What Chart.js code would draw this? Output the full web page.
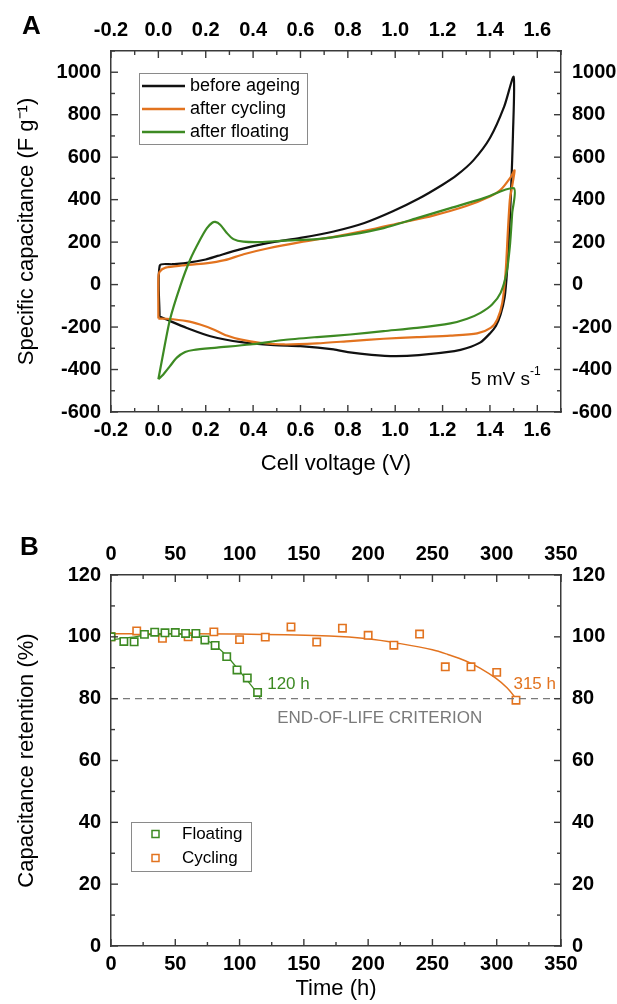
<!DOCTYPE html>
<html>
<head>
<meta charset="utf-8">
<script src="https://cdn.jsdelivr.net/npm/chart.js@4.4.1/dist/chart.umd.min.js"></script>
<style>
  html, body { margin: 0; padding: 0; background: #fff; }
  #wrap { position: relative; width: 617px; height: 1004px; overflow: hidden; }
  .panel { position: absolute; left: 0; width: 617px; }
  .tag { position: absolute; font: bold 26px 'Liberation Sans', Arial, sans-serif; color: #000; }
</style>
</head>
<body>
<div id="wrap">
  <div class="panel" style="top:0;height:480px"><canvas id="cvChart" width="617" height="480"></canvas></div>
  <div class="panel" style="top:480px;height:524px"><canvas id="retChart" width="617" height="524"></canvas></div>
  <div class="tag" style="left:22px;top:10px">A</div>
  <div class="tag" style="left:20px;top:531px">B</div>
</div>
<script>
// ---- panel A: cyclic voltammograms (closed loops, voltage in V, capacitance in F/g)
const beforeV = [0.005, 0.006, 0.06, 0.12, 0.2, 0.25, 0.345, 0.46, 0.6, 0.74, 0.87, 0.99, 1.1, 1.2, 1.26, 1.33, 1.4, 1.46, 1.5,
  1.497, 1.49, 1.482, 1.472, 1.462, 1.445, 1.425, 1.4, 1.36, 1.3, 1.25, 1.1, 1.0, 0.9, 0.8, 0.74, 0.6, 0.49, 0.35, 0.22, 0.12, 0.05, 0.005];
const beforeC = [-150, 90, 96, 102, 118, 135, 166, 195, 220, 250, 290, 345, 405, 470, 515, 585, 690, 838, 978,
  700, 470, 260, 60, -60, -140, -195, -230, -272, -300, -313, -332, -337, -331, -318, -305, -290, -285, -271, -243, -204, -172, -150];

const cyclingV = [0.0, 0.0, 0.005, 0.03, 0.1, 0.2, 0.28, 0.36, 0.46, 0.6, 0.74, 0.88, 1.02, 1.16, 1.3, 1.4, 1.445, 1.487, 1.504,
  1.49, 1.484, 1.476, 1.466, 1.452, 1.431, 1.403, 1.346, 1.233, 1.092, 0.951, 0.81, 0.67, 0.53, 0.43, 0.345, 0.289, 0.233, 0.176, 0.12, 0.035, 0.0];
const cyclingC = [-160, 30, 60, 80, 90, 100, 115, 143, 170, 200, 225, 255, 290, 325, 370, 415, 446, 505, 538,
  440, 400, 258, 55, -86, -164, -204, -230, -240, -247, -255, -266, -277, -282, -274, -258, -240, -211, -188, -172, -161, -160];

const floatingV = [0.0, 0.021, 0.049, 0.092, 0.134, 0.176, 0.205, 0.226, 0.24, 0.261, 0.289, 0.317, 0.359, 0.43, 0.529, 0.67, 0.81, 0.951, 1.092, 1.233, 1.374, 1.501,
  1.494, 1.484, 1.47, 1.445, 1.409, 1.36, 1.304, 1.233, 1.092, 0.951, 0.81, 0.67, 0.529, 0.388, 0.247, 0.148, 0.113, 0.078, 0.049, 0.021, 0.0];
const floatingC = [-446, -321, -164, -8, 117, 211, 266, 290, 295, 282, 243, 214, 202, 200, 207, 214, 235, 266, 313, 360, 407, 454,
  337, 180, 55, -39, -94, -133, -161, -183, -204, -219, -235, -247, -261, -282, -297, -308, -318, -344, -384, -423, -446];

const voltTicks = [-0.2, 0.0, 0.2, 0.4, 0.6, 0.8, 1.0, 1.2, 1.4, 1.6];
const capTicks = [-600, -400, -200, 0, 200, 400, 600, 800, 1000];

// ---- panel B: capacitance retention vs time
const cyclingTime = [0, 20, 40, 60, 80, 100, 120, 140, 160, 180, 200, 220, 240, 260, 280, 300, 315];
const cyclingRet = [100, 101.9, 99.5, 100, 101.6, 99.1, 99.9, 103.2, 98.3, 102.8, 100.5, 97.3, 100.9, 90.3, 90.3, 88.5, 79.5];
const cyclingFitTime = [0, 50, 100, 170, 200, 225, 250, 262, 276, 287, 299, 308, 316];
const cyclingFitRet = [101, 101, 100.9, 100.3, 99.4, 97.8, 95.8, 94.3, 92.2, 89.9, 86.7, 83.5, 79.5];

const floatingTime = [0, 10, 18, 26, 34, 42, 50, 58, 66, 73, 81, 90, 98, 106, 114];
const floatingRet = [100, 98.5, 98.4, 100.8, 101.5, 101.3, 101.4, 101.1, 101.1, 99.0, 97.2, 93.6, 89.3, 86.7, 82.0];
const floatingFitTime = [0, 15, 30, 45, 60, 70, 80, 90, 100, 110, 116];
const floatingFitRet = [99, 99.8, 100.7, 101, 100.7, 99.7, 97.5, 93.8, 88.9, 83.8, 80.2];

const endOfLife = 80;
const timeTicks = [0, 50, 100, 150, 200, 250, 300, 350];
const retTicks = [0, 20, 40, 60, 80, 100, 120];

const BLACK = '#111111', ORANGE = '#e2731f', GREEN = '#3d8a23', AXIS = '#3a3a3a';
const sans = "'Liberation Sans', Arial, sans-serif";

Chart.defaults.color = '#000';
Chart.defaults.font.family = sans;

const pts = (xs, ys) => xs.map((x, i) => ({ x: x, y: ys[i] }));

// builds one axis; size is the fixed box width/height so both panels line up
function axis(pos, min, max, tickVals, fmt, size, pad, title) {
  const a = {
    type: 'linear', position: pos, min: min, max: max,
    afterBuildTicks: s => { s.ticks = tickVals.map(v => ({ value: v })); },
    afterFit: s => {
      if (pos === 'left' || pos === 'right') s.width = size; else s.height = size;
    },
    grid: { display: false, drawOnChartArea: false, drawTicks: false },
    border: { display: true, color: AXIS, width: 1.5 },
    ticks: {
      autoSkip: false, maxRotation: 0, padding: pad, color: '#000',
      font: { family: sans, size: 20, weight: 'bold' },
      callback: v => fmt(v)
    }
  };
  if (title) a.title = title;
  return a;
}

// inward pointing major + minor tick marks on all four sides
const inwardTicks = {
  id: 'inwardTicks',
  afterDatasetsDraw(chart, args, opts) {
    const { ctx, chartArea: a } = chart;
    ctx.save();
    ctx.strokeStyle = AXIS;
    ctx.lineWidth = 1.4;
    for (const id of Object.keys(opts.steps)) {
      const s = chart.scales[id];
      const step = opts.steps[id];
      const k0 = Math.ceil(s.min / step - 1e-9);
      for (let k = k0; k * step <= s.max + 1e-9; k++) {
        const len = (k % 2 === 0) ? 7 : 4;
        const p = s.getPixelForValue(k * step);
        ctx.beginPath();
        if (s.position === 'left') { ctx.moveTo(a.left, p); ctx.lineTo(a.left + len, p); }
        else if (s.position === 'right') { ctx.moveTo(a.right, p); ctx.lineTo(a.right - len, p); }
        else if (s.position === 'top') { ctx.moveTo(p, a.top); ctx.lineTo(p, a.top + len); }
        else { ctx.moveTo(p, a.bottom); ctx.lineTo(p, a.bottom - len); }
        ctx.stroke();
      }
    }
    ctx.restore();
  }
};

// free text placed at data coordinates
const notes = {
  id: 'notes',
  afterDatasetsDraw(chart, args, opts) {
    const ctx = chart.ctx;
    ctx.save();
    for (const n of opts.items) {
      let x = chart.scales.x.getPixelForValue(n.x);
      const y = chart.scales.y.getPixelForValue(n.y);
      ctx.fillStyle = n.color;
      ctx.textBaseline = 'middle';
      ctx.font = n.size + 'px ' + sans;
      const w = ctx.measureText(n.text).width;
      ctx.font = Math.round(n.size * 0.62) + 'px ' + sans;
      const ws = n.sup ? ctx.measureText(n.sup).width : 0;
      if (n.align === 'right') x -= w + ws;
      else if (n.align === 'center') x -= (w + ws) / 2;
      ctx.textAlign = 'left';
      ctx.font = n.size + 'px ' + sans;
      ctx.fillText(n.text, x, y);
      if (n.sup) {
        ctx.font = Math.round(n.size * 0.62) + 'px ' + sans;
        ctx.fillText(n.sup, x + w, y - n.size * 0.38);
      }
    }
    ctx.restore();
  }
};

// legend boxes drawn at fixed offsets from the plot corner
const boxLegend = {
  id: 'boxLegend',
  afterDraw(chart, args, opts) {
    const { ctx, chartArea: a } = chart;
    ctx.save();
    ctx.strokeStyle = '#8a8a8a';
    ctx.lineWidth = 1;
    ctx.strokeRect(a.left + opts.dx + 0.5, a.top + opts.dy + 0.5, opts.w, opts.h);
    ctx.font = opts.size + 'px ' + sans;
    ctx.textBaseline = 'middle';
    opts.rows.forEach((r, i) => {
      const y = a.top + opts.dy + opts.first + i * opts.gap;
      ctx.strokeStyle = r.color;
      if (opts.kind === 'line') {
        ctx.lineWidth = 2.5;
        ctx.beginPath();
        ctx.moveTo(a.left + opts.dx + 3, y);
        ctx.lineTo(a.left + opts.dx + 46, y);
        ctx.stroke();
      } else {
        ctx.lineWidth = 1.5;
        ctx.strokeRect(a.left + opts.dx + 21, y - 3.5, 7, 7);
      }
      ctx.fillStyle = '#000';
      ctx.fillText(r.label, a.left + opts.dx + opts.textX, y);
    });
    ctx.restore();
  }
};

const fmt1 = v => Number(v).toFixed(1);
const fmt0 = v => String(v);
const titleFont = { family: sans, size: 22 };

const cvLine = (label, xs, ys, color) => ({
  label: label, data: pts(xs, ys), showLine: true, borderColor: color,
  borderWidth: 2.2, pointRadius: 0, tension: 0.25, fill: false
});

new Chart(document.getElementById('cvChart'), {
  type: 'scatter',
  data: {
    datasets: [
      cvLine('after floating', floatingV, floatingC, GREEN),
      cvLine('after cycling', cyclingV, cyclingC, ORANGE),
      cvLine('before ageing', beforeV, beforeC, BLACK)
    ]
  },
  options: {
    responsive: false, animation: false,
    layout: { padding: 0 },
    scales: {
      x: axis('bottom', -0.2, 1.7, voltTicks, fmt1, 68, 6,
        { display: true, text: 'Cell voltage (V)', font: titleFont, color: '#000', padding: { top: 0, bottom: 3 } }),
      x2: axis('top', -0.2, 1.7, voltTicks, fmt1, 51, 9),
      y: axis('left', -600, 1100, capTicks, fmt0, 111, 10,
        { display: true, text: 'Specific capacitance (F g\u207B\u00B9)', font: titleFont, color: '#000', padding: { top: 14, bottom: 0 } }),
      y2: axis('right', -600, 1100, capTicks, fmt0, 56, 11)
    },
    plugins: {
      legend: { display: false },
      tooltip: { enabled: false },
      inwardTicks: { steps: { x: 0.1, x2: 0.1, y: 100, y2: 100 } },
      notes: { items: [
        { text: '5 mV s', sup: '-1', x: 1.614, y: -446, color: '#000', size: 19, align: 'right' }
      ] },
      boxLegend: {
        kind: 'line', dx: 28, dy: 22, w: 168, h: 71, first: 13, gap: 23, textX: 51, size: 18,
        rows: [
          { label: 'before ageing', color: BLACK },
          { label: 'after cycling', color: ORANGE },
          { label: 'after floating', color: GREEN }
        ]
      }
    }
  },
  plugins: [inwardTicks, notes, boxLegend]
});

new Chart(document.getElementById('retChart'), {
  type: 'scatter',
  data: {
    datasets: [
      { label: 'eol', data: [{ x: 0, y: endOfLife }, { x: 350, y: endOfLife }], showLine: true,
        borderColor: '#7a7a7a', borderWidth: 1.3, borderDash: [7, 5], pointRadius: 0 },
      { label: 'Floating', data: pts(floatingTime, floatingRet), showLine: false,
        pointStyle: 'rect', pointRadius: 5.2, pointBorderWidth: 1.6,
        borderColor: GREEN, backgroundColor: '#fff' },
      { label: 'floating fit', data: pts(floatingFitTime, floatingFitRet), showLine: true,
        borderColor: GREEN, borderWidth: 1.3, pointRadius: 0, tension: 0.35 },
      { label: 'Cycling', data: pts(cyclingTime, cyclingRet), showLine: false,
        pointStyle: 'rect', pointRadius: 5.2, pointBorderWidth: 1.6,
        borderColor: ORANGE, backgroundColor: '#fff' },
      { label: 'cycling fit', data: pts(cyclingFitTime, cyclingFitRet), showLine: true,
        borderColor: ORANGE, borderWidth: 1.5, pointRadius: 0, tension: 0.35 }
    ]
  },
  options: {
    responsive: false, animation: false,
    layout: { padding: 0 },
    scales: {
      x: axis('bottom', 0, 350, timeTicks, fmt0, 58, 6,
        { display: true, text: 'Time (h)', font: titleFont, color: '#000', padding: { top: 0, bottom: 2 } }),
      x2: axis('top', 0, 350, timeTicks, fmt0, 95, 9),
      y: axis('left', 0, 120, retTicks, fmt0, 111, 10,
        { display: true, text: 'Capacitance retention (%)', font: titleFont, color: '#000', padding: { top: 14, bottom: 0 } }),
      y2: axis('right', 0, 120, retTicks, fmt0, 56, 11)
    },
    plugins: {
      legend: { display: false },
      tooltip: { enabled: false },
      inwardTicks: { steps: { x: 25, x2: 25, y: 10, y2: 10 } },
      notes: { items: [
        { text: '120 h', x: 121.5, y: 84.7, color: GREEN, size: 17, align: 'left' },
        { text: '315 h', x: 313, y: 84.5, color: ORANGE, size: 17, align: 'left' },
        { text: 'END-OF-LIFE CRITERION', x: 209, y: 73.5, color: '#7a7a7a', size: 17, align: 'center' }
      ] },
      boxLegend: {
        kind: 'box', dx: 20, dy: 247, w: 120, h: 49, first: 12, gap: 24, textX: 51, size: 17,
        rows: [
          { label: 'Floating', color: GREEN },
          { label: 'Cycling', color: ORANGE }
        ]
      }
    }
  },
  plugins: [inwardTicks, notes, boxLegend]
});
</script>
</body>
</html>
